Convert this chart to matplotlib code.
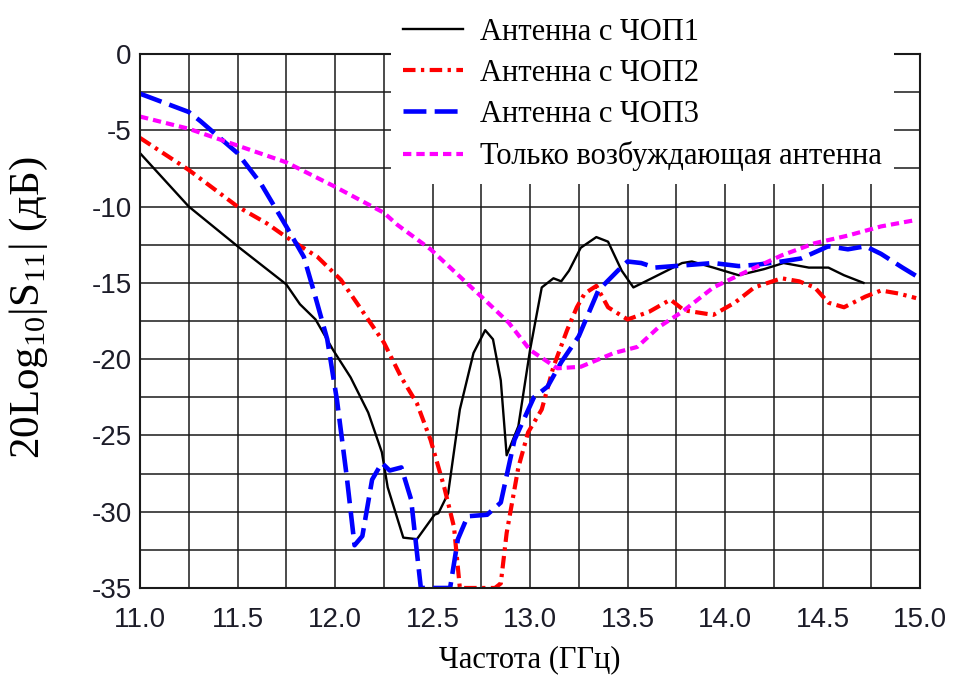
import numpy as np
import matplotlib.pyplot as plt
from matplotlib.ticker import MultipleLocator

# Данные (частота в ГГц, |S11| в дБ)
f_1 = [11.0, 11.25, 11.5, 11.75, 11.82, 11.90, 11.99, 12.08, 12.17, 12.24, 12.27,
       12.35, 12.42, 12.51, 12.53, 12.58, 12.64, 12.71, 12.77, 12.81, 12.85, 12.88,
       12.94, 13.00, 13.06, 13.12, 13.16, 13.20, 13.26, 13.34, 13.40, 13.47, 13.53,
       13.64, 13.78, 13.83, 13.94, 14.07, 14.20, 14.30, 14.43, 14.53, 14.61, 14.71]
s_1 = [-6.5, -10.0, -12.6, -15.1, -16.4, -17.4, -19.4, -21.2, -23.5, -26.1, -28.4,
       -31.7, -31.8, -30.2, -30.1, -28.8, -23.3, -19.6, -18.1, -18.7, -21.4, -26.3,
       -24.4, -19.4, -15.3, -14.7, -14.9, -14.2, -12.7, -12.0, -12.3, -14.2, -15.3,
       -14.6, -13.7, -13.6, -14.0, -14.5, -14.1, -13.7, -14.0, -14.0, -14.5, -15.0]

f_2 = [11.0, 11.25, 11.5, 11.65, 11.75, 11.91, 12.03, 12.10, 12.25, 12.34, 12.42,
       12.49, 12.56, 12.61, 12.64, 12.75, 12.82, 12.85, 12.88, 12.94, 12.99, 13.06,
       13.12, 13.19, 13.24, 13.28, 13.34, 13.40, 13.50, 13.61, 13.72, 13.79, 13.94,
       14.05, 14.15, 14.29, 14.38, 14.46, 14.53, 14.61, 14.72, 14.80, 14.89, 14.98]
s_2 = [-5.5, -7.6, -10.0, -11.1, -12.0, -13.3, -14.8, -16.1, -18.9, -21.2, -22.9,
       -25.3, -28.4, -31.0, -35.0, -35.0, -35.0, -34.7, -31.4, -27.1, -24.8, -23.3,
       -20.5, -18.1, -16.6, -15.7, -15.2, -16.6, -17.4, -16.9, -16.1, -16.8, -17.1,
       -16.3, -15.3, -14.7, -14.9, -15.3, -16.3, -16.6, -15.9, -15.5, -15.7, -16.0]

f_3 = [11.0, 11.25, 11.31, 11.5, 11.62, 11.75, 11.84, 11.89, 11.96, 12.01, 12.06,
       12.10, 12.14, 12.19, 12.24, 12.28, 12.34, 12.39, 12.44, 12.59, 12.63, 12.68,
       12.78, 12.85, 12.92, 13.02, 13.09, 13.16, 13.25, 13.35, 13.45, 13.50, 13.57,
       13.64, 13.74, 13.84, 13.94, 14.07, 14.17, 14.29, 14.39, 14.46, 14.53, 14.63,
       14.72, 14.80, 14.91, 15.0]
s_3 = [-2.6, -3.8, -4.4, -6.5, -8.5, -11.3, -13.3, -15.5, -18.7, -22.7, -27.7,
       -32.2, -31.6, -27.9, -26.8, -27.3, -27.1, -29.2, -35.0, -35.0, -31.8, -30.3,
       -30.2, -29.4, -25.3, -22.5, -21.8, -20.2, -18.5, -15.5, -14.2, -13.6, -13.7,
       -14.0, -13.9, -13.8, -13.7, -13.9, -13.8, -13.6, -13.4, -13.0, -12.6, -12.8,
       -12.6, -13.1, -14.0, -14.7]

f_0 = [11.0, 11.25, 11.5, 11.75, 12.0, 12.25, 12.32, 12.49, 12.75, 12.89, 13.0,
       13.14, 13.26, 13.43, 13.55, 13.66, 13.78, 13.94, 14.12, 14.29, 14.46, 14.63,
       14.80, 14.97]
s_0 = [-4.1, -4.9, -6.0, -7.1, -8.7, -10.4, -11.2, -12.8, -15.9, -17.6, -19.4,
       -20.6, -20.5, -19.6, -19.2, -17.9, -16.9, -15.3, -14.2, -13.2, -12.4, -11.9,
       -11.3, -10.9]

labels = ["Антенна с ЧОП1", "Антенна с ЧОП2", "Антенна с ЧОП3",
          "Только возбуждающая антенна"]

plt.rcParams['mathtext.fontset'] = 'custom'
plt.rcParams['mathtext.rm'] = 'Liberation Serif'

fig = plt.figure(figsize=(9.54, 6.77), dpi=100)
ax = fig.add_axes([0.1468, 0.1315, 0.8176, 0.7887])

ax.plot(f_1, s_1, color="black", lw=1.7, label=labels[0])
ax.plot(f_2, s_2, color="#ff0000", lw=3, dashes=(3, 1.3, 0.8, 1.3), label=labels[1])
ax.plot(f_3, s_3, color="#0000ff", lw=3.3, dashes=(5, 1.8), label=labels[2])
ax.plot(f_0, s_0, color="#ff00ff", lw=3, dashes=(2, 1.2), label=labels[3])

ax.set_xlim(11.0, 15.0)
ax.set_ylim(-35, 0)
ax.xaxis.set_major_locator(MultipleLocator(0.5))
ax.xaxis.set_minor_locator(MultipleLocator(0.25))
ax.yaxis.set_major_locator(MultipleLocator(5))
ax.yaxis.set_minor_locator(MultipleLocator(2.5))
ax.xaxis.set_major_formatter(lambda v, p: f"{v:.1f}")
ax.yaxis.set_major_formatter(lambda v, p: f"{v:.0f}")
ax.grid(True, which="both", color="#1a1a1a", lw=1.1)
ax.tick_params(which="both", length=0)
ax.tick_params(axis="x", pad=14, labelsize=20, labelcolor="#1c1c28")
ax.tick_params(axis="y", pad=6, labelsize=20, labelcolor="#1c1c28")
for lab in ax.get_xticklabels() + ax.get_yticklabels():
    lab.set_family("Liberation Sans")
for sp in ax.spines.values():
    sp.set_linewidth(1.5)
    sp.set_color("#1a1a1a")

ax.set_xlabel("Частота (ГГц)", family="Liberation Serif", fontsize=22)
ax.xaxis.set_label_coords(0.5, -0.108)
ax.set_ylabel(r"20Log$_\mathregular{10}$|S$_\mathregular{11}$| (дБ)",
              family="Liberation Serif", fontsize=31)
ax.yaxis.set_label_coords(-0.115, 0.525)

leg = ax.legend(loc="upper left", bbox_to_anchor=(0.41, 0.992),
                bbox_transform=fig.transFigure, borderaxespad=0,
                prop={"family": "Liberation Serif", "size": 22},
                frameon=True, facecolor="white", edgecolor="none",
                framealpha=1, fancybox=False, borderpad=0.4,
                handlelength=1.96, handletextpad=0.55, labelspacing=0.4)

fig.savefig("out.png", dpi=100)
